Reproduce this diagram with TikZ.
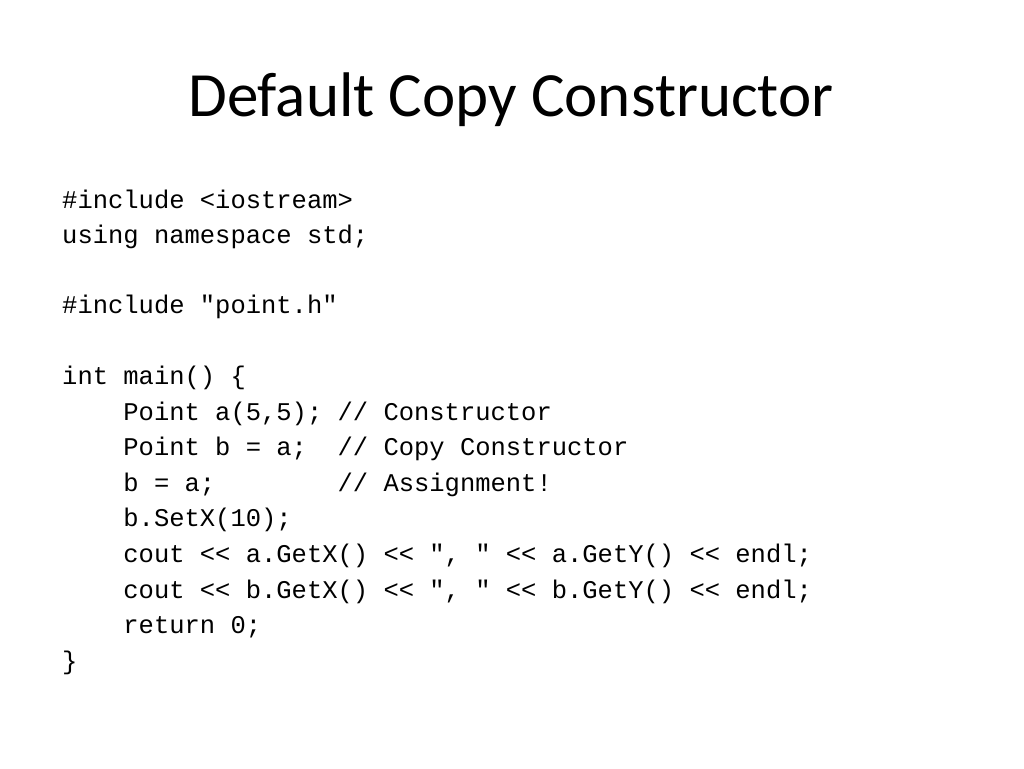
\documentclass[tikz,border=0pt]{standalone}
\usepackage{fontspec}
\newfontfamily\titlefont{Carlito}
\newfontfamily\codefont{Liberation Mono}
\begin{document}
\begin{tikzpicture}[x=1pt,y=-1pt,
  codeline/.style={anchor=base west,inner sep=0pt,font=\codefont\fontsize{25.5}{30}\selectfont}]
\useasboundingbox (0,0) rectangle (1024,768);
\fill[white] (0,0) rectangle (1024,768);
\node[anchor=base,inner sep=0pt,font=\titlefont\fontsize{63}{70}\selectfont] (title) at (511,116) {Default Copy Constructor};
\foreach \i/\y/\t in {1/200/{\#include <iostream>},2/235/{using namespace std;},4/305/{\#include "point.h"},6/376/{int main() \{},7/412/{\ \ \ \ Point a(5,5); // Constructor},8/447/{\ \ \ \ Point b = a;\ \ // Copy Constructor},9/483/{\ \ \ \ b = a;\ \ \ \ \ \ \ \ // Assignment!},10/518/{\ \ \ \ b.SetX(10);},11/554/{\ \ \ \ cout << a.GetX() << ", " << a.GetY() << endl;},12/590/{\ \ \ \ cout << b.GetX() << ", " << b.GetY() << endl;},13/625/{\ \ \ \ return 0;},14/661/{\}}}
  \node[codeline] (l\i) at (62,\y+8) {\t};
\end{tikzpicture}
\end{document}
